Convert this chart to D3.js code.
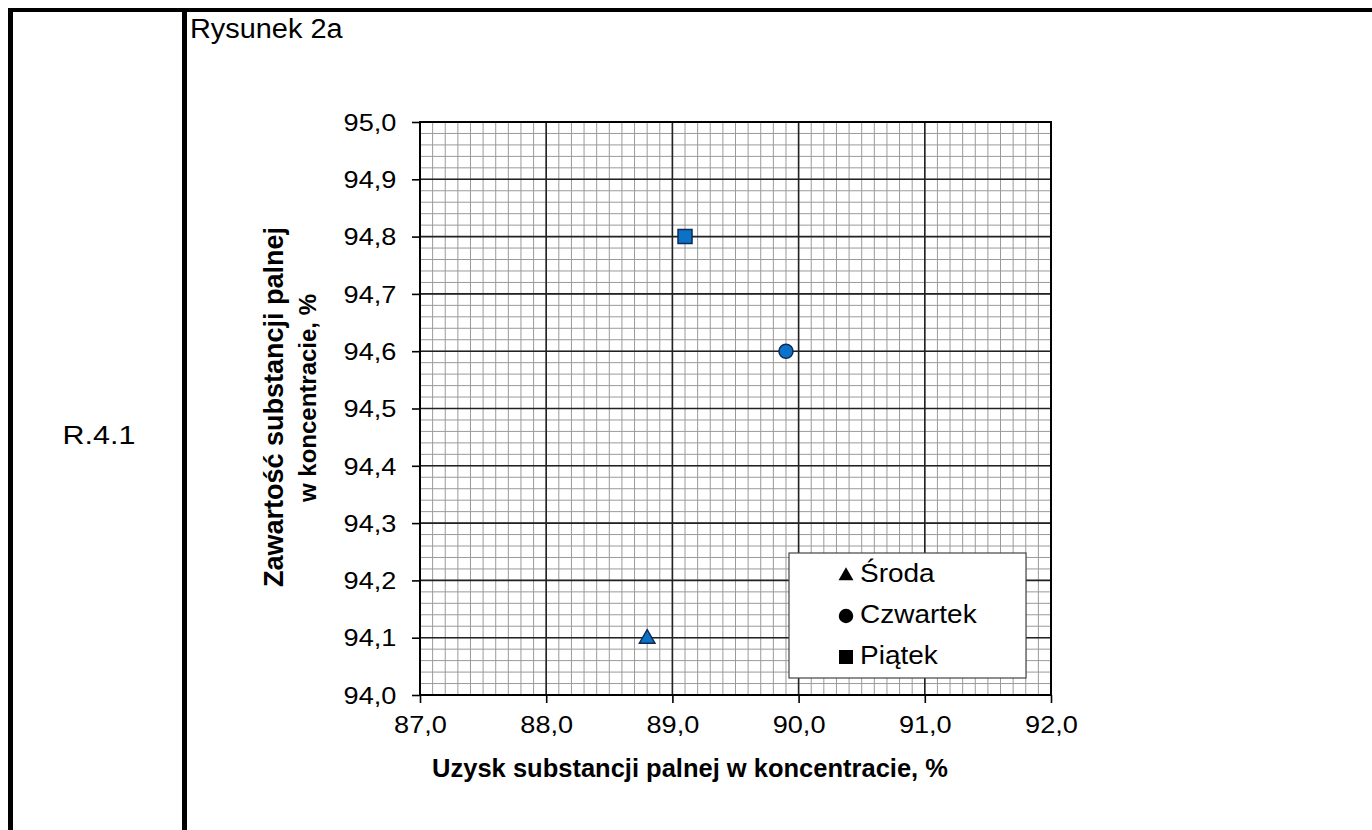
<!DOCTYPE html>
<html><head><meta charset="utf-8">
<script src="https://cdn.jsdelivr.net/npm/d3@7"></script>
<style>
html,body{margin:0;padding:0;background:#fff;}
svg{display:block;font-family:"Liberation Sans",Arial,sans-serif;}
</style></head>
<body>
<svg id="chart" width="1372" height="830"></svg>
<script>
// ---- data ----
const seriesNames = ["Środa", "Czwartek", "Piątek"];
const xValues = [88.8, 89.9, 89.1];
const yValues = [94.1, 94.6, 94.8];
const markerShapes = ["triangle", "circle", "square"];
const xTickValues = [87, 88, 89, 90, 91, 92];
const yTickValues = [94.0, 94.1, 94.2, 94.3, 94.4, 94.5, 94.6, 94.7, 94.8, 94.9, 95.0];
const xTitle = "Uzysk substancji palnej w koncentracie, %";
const yTitleLines = ["Zawartość substancji palnej", "w koncentracie, %"];
const figureLabel = "Rysunek 2a";
const rowLabel = "R.4.1";

// ---- layout ----
const svg = d3.select("#chart");
const L = 420, R = 1051, T = 122, B = 695;
const x = d3.scaleLinear().domain([87, 92]).range([L, R]);
const y = d3.scaleLinear().domain([94, 95]).range([B, T]);
const loc = d3.formatLocale({decimal: ",", thousands: " ", grouping: [3], currency: ["", ""]});
const fmt = loc.format(".1f");
const sx = 1.18;
const FF = "Liberation Sans, Arial, sans-serif";

// table frame
svg.append("line").attr("x1", 8).attr("x2", 1372).attr("y1", 10).attr("y2", 10).attr("stroke", "#000").attr("stroke-width", 4);
svg.append("line").attr("x1", 10.5).attr("x2", 10.5).attr("y1", 8).attr("y2", 830).attr("stroke", "#000").attr("stroke-width", 5);
svg.append("line").attr("x1", 184.5).attr("x2", 184.5).attr("y1", 8).attr("y2", 830).attr("stroke", "#000").attr("stroke-width", 5);

svg.append("text").attr("transform", "translate(190,38) scale(1.07,1)").attr("font-size", 27).text(figureLabel);
svg.append("text").attr("transform", "translate(99,444) scale(1.22,1)").attr("text-anchor", "middle").attr("font-size", 25).text(rowLabel);

// grid
const g = svg.append("g");
const xMinor = d3.range(87, 92.0001, 0.1);
const yMinor = d3.range(94, 95.0001, 0.02);
g.selectAll(".xm").data(xMinor).enter().append("line")
  .attr("x1", d => x(d)).attr("x2", d => x(d)).attr("y1", T).attr("y2", B)
  .attr("stroke", "#9a9a9a").attr("stroke-width", 1);
g.selectAll(".ym").data(yMinor).enter().append("line")
  .attr("y1", d => y(d)).attr("y2", d => y(d)).attr("x1", L).attr("x2", R)
  .attr("stroke", "#9a9a9a").attr("stroke-width", 1);
g.selectAll(".xM").data(xTickValues).enter().append("line")
  .attr("x1", d => x(d)).attr("x2", d => x(d)).attr("y1", T).attr("y2", B)
  .attr("stroke", "#222").attr("stroke-width", 1.6);
g.selectAll(".yM").data(yTickValues).enter().append("line")
  .attr("y1", d => y(d)).attr("y2", d => y(d)).attr("x1", L).attr("x2", R)
  .attr("stroke", "#222").attr("stroke-width", 1.6);
g.append("rect").attr("x", L).attr("y", T).attr("width", R - L).attr("height", B - T)
  .attr("fill", "none").attr("stroke", "#000").attr("stroke-width", 2);

// axes
const ax = svg.append("g").attr("transform", `translate(0,${B})`)
  .call(d3.axisBottom(x).tickValues(xTickValues).tickFormat(fmt).tickSize(8).tickPadding(4));
ax.select(".domain").remove();
ax.selectAll("line").attr("stroke", "#000").attr("stroke-width", 1.6);
ax.selectAll("text").attr("font-size", 23).attr("fill", "#000").attr("font-family", FF)
  .attr("dy", 0).attr("y", 38).attr("transform", `scale(${sx},1)`);

const ay = svg.append("g").attr("transform", `translate(${L},0)`)
  .call(d3.axisLeft(y).tickValues(yTickValues).tickFormat(fmt).tickSize(8).tickPadding(4));
ay.select(".domain").remove();
ay.selectAll("line").attr("stroke", "#000").attr("stroke-width", 1.6);
ay.selectAll("text").attr("font-size", 23).attr("fill", "#000").attr("font-family", FF)
  .attr("x", -20).attr("dy", "0.36em").attr("transform", `scale(${sx},1)`);

// axis titles
svg.append("text").attr("transform", "translate(690,777) scale(1.02,1)").attr("text-anchor", "middle")
  .attr("font-size", 25).attr("font-weight", "bold").text(xTitle);
const yt = svg.append("text").attr("transform", "rotate(-90)")
  .attr("text-anchor", "middle").attr("font-weight", "bold");
yt.append("tspan").attr("x", -407).attr("y", 283).attr("font-size", 27).text(yTitleLines[0]);
yt.append("tspan").attr("x", -398).attr("y", 316).attr("font-size", 24).text(yTitleLines[1]);

// markers
const sym = {triangle: d3.symbolTriangle, circle: d3.symbolCircle, square: d3.symbolSquare};
const sizes = {triangle: 105, circle: 155, square: 196};
svg.selectAll(".pt").data(seriesNames).enter().append("path")
  .attr("transform", (d, i) => `translate(${x(xValues[i])},${y(yValues[i]) + (markerShapes[i] === "triangle" ? 1 : 0)})`)
  .attr("d", (d, i) => d3.symbol(sym[markerShapes[i]], sizes[markerShapes[i]])())
  .attr("fill", "#0b72c8").attr("stroke", "#102a55").attr("stroke-width", 1.5);

// legend
const lg = svg.append("g");
lg.append("rect").attr("x", 789).attr("y", 553).attr("width", 237).attr("height", 125)
  .attr("fill", "#fff").attr("stroke", "#444").attr("stroke-width", 1.2);
const rowY = [575, 616, 657];
const lsz = {triangle: 97, circle: 165, square: 196};
seriesNames.forEach((name, i) => {
  lg.append("path").attr("transform", `translate(846,${rowY[i] + (markerShapes[i] === "triangle" ? 1 : 0)})`)
    .attr("d", d3.symbol(sym[markerShapes[i]], lsz[markerShapes[i]])()).attr("fill", "#000");
  lg.append("text").attr("transform", `translate(860,${rowY[i] + 7}) scale(1.12,1)`)
    .attr("font-size", 25).text(name);
});
</script>
</body></html>
